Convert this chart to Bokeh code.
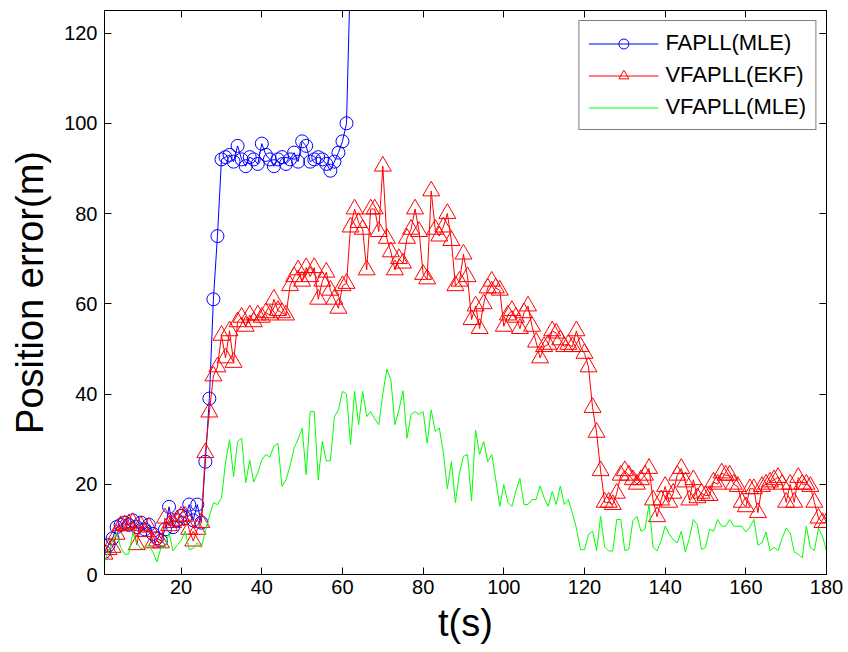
from bokeh.plotting import figure
from bokeh.models import LinearAxis, FixedTicker, Range1d, Legend, LegendItem
from bokeh.embed import file_html
from bokeh.resources import INLINE

# ---- data ----
t = list(range(1, 181))

fapll_mle = [
    5.0, 6.5, 8.0, 10.5, 11.0, 11.5, 11.0, 12.0, 10.5, 11.5,
    10.0, 11.0, 9.0, 8.0, 7.5, 10.0, 15.0, 10.5, 12.0, 13.0,
    12.5, 15.5, 12.0, 15.5, 11.5, 25.0, 39.0, 61.0, 75.0, 92.0,
    92.5, 93.0, 91.5, 95.0, 92.0, 90.5, 92.5, 92.0, 91.0, 95.5,
    93.0, 92.0, 90.5, 92.0, 92.5, 91.0, 92.0, 93.5, 91.5, 96.0,
    95.0, 91.5, 92.0, 92.5, 92.0, 91.0, 89.5, 91.5, 93.5, 96.0,
    100.0, 135.0,
]
t_fapll = t[:len(fapll_mle)]

vfapll_ekf = [
    4.5, 5.5, 6.0, 8.9, 10.8, 11.0, 11.2, 11.5, 6.6, 10.8,
    9.5, 10.5, 7.0, 7.4, 7.0, 12.5, 10.8, 11.5, 12.0, 12.9,
    12.9, 10.0, 7.4, 10.0, 11.5, 27.0, 36.0, 44.0, 46.0, 53.0,
    48.0, 54.0, 47.0, 56.0, 57.0, 55.0, 57.5, 56.0, 57.5, 57.0,
    58.0, 57.5, 61.0, 58.5, 58.0, 57.5, 64.0, 66.0, 67.5, 65.0,
    68.0, 66.0, 68.0, 61.0, 65.0, 67.0, 63.0, 61.0, 59.0, 64.0,
    64.5, 77.0, 81.0, 78.0, 76.5, 67.5, 81.0, 81.0, 76.0, 90.5,
    74.5, 71.5, 67.5, 70.0, 69.0, 74.5, 76.5, 81.0, 76.0, 66.5,
    65.5, 85.0, 76.5, 75.0, 77.0, 80.0, 74.0, 64.0, 65.0, 71.0,
    66.0, 56.5, 59.5, 54.5, 60.0, 63.5, 65.0, 63.5, 63.0, 55.0,
    57.5, 58.5, 57.0, 54.5, 58.0, 59.5, 55.0, 51.5, 48.0, 50.5,
    51.0, 54.0, 53.5, 52.0, 50.5, 51.0, 50.5, 54.0, 50.5, 49.0,
    46.0, 37.0, 31.5, 23.0, 16.0, 16.0, 15.5, 18.0, 22.0, 23.0,
    22.0, 21.0, 20.0, 21.0, 22.0, 23.5, 16.5, 12.8, 16.5, 19.5,
    16.0, 18.0, 22.0, 23.5, 20.5, 16.5, 21.0, 17.0, 18.0, 17.5,
    17.5, 20.5, 20.0, 22.5, 22.0, 22.0, 20.0, 19.5, 16.0, 15.0,
    19.0, 19.0, 13.7, 19.5, 20.0, 20.5, 21.0, 21.5, 20.0, 16.0,
    20.0, 16.0, 21.5, 20.0, 20.0, 19.5, 16.0, 12.5, 11.5, 11.5,
]

vfapll_mle = [
    2.9, 5.0, 7.5, 9.2, 6.0, 4.5, 4.5, 9.2, 7.0, 5.7,
    6.0, 6.5, 5.0, 2.8, 6.0, 6.0, 9.2, 5.2, 6.5, 7.5,
    9.6, 5.5, 5.8, 7.0, 6.0, 9.5, 12.9, 15.9, 15.5, 16.9,
    24.7, 29.9, 21.7, 29.5, 30.2, 20.3, 25.4, 20.5, 22.5, 25.4,
    26.6, 26.0, 28.4, 29.1, 19.5, 21.0, 24.0, 28.0, 30.0, 32.4,
    22.1, 36.1, 36.1, 21.0, 29.5, 25.2, 25.2, 35.0, 36.5, 40.6,
    40.0, 28.8, 40.6, 33.2, 40.6, 35.0, 36.1, 34.5, 33.2, 40.0,
    45.5, 43.1, 33.2, 36.5, 40.7, 30.2, 35.5, 36.1, 35.5, 36.1,
    29.1, 36.5, 31.7, 32.5, 27.0, 19.0, 25.0, 15.9, 22.5, 26.2,
    26.6, 16.3, 32.0, 26.6, 29.5, 25.0, 26.6, 21.0, 15.1, 19.9,
    16.0, 15.1, 18.5, 21.3, 15.5, 15.5, 16.6, 16.6, 19.6, 17.0,
    15.1, 18.4, 15.5, 19.6, 15.5, 16.6, 13.6, 10.3, 5.5, 5.5,
    8.9, 9.6, 5.3, 12.9, 6.1, 5.2, 5.2, 12.2, 12.2, 5.3,
    5.6, 12.0, 12.9, 9.6, 10.0, 15.5, 6.1, 5.2, 7.5, 10.7,
    9.0, 7.7, 7.0, 9.6, 5.0, 8.0, 12.2, 11.0, 5.5, 6.0,
    10.0, 9.6, 12.2, 10.7, 10.7, 12.2, 10.7, 10.7, 10.7, 9.4,
    10.5, 12.2, 6.5, 7.0, 9.4, 5.3, 6.0, 5.3, 8.0, 10.3,
    9.2, 5.0, 4.5, 3.7, 10.7, 6.0, 5.3, 10.3, 8.5, 5.3,
]

x_ticks = [20, 40, 60, 80, 100, 120, 140, 160, 180]
y_ticks = [0, 20, 40, 60, 80, 100, 120]
labels = ["FAPLL(MLE)", "VFAPLL(EKF)", "VFAPLL(MLE)"]

FONT = "Arial"

p = figure(width=848, height=652,
           x_range=Range1d(1, 180), y_range=Range1d(0, 125),
           output_backend="svg", toolbar_location=None,
           min_border_left=104, min_border_right=22,
           min_border_top=10, min_border_bottom=78)
p.xgrid.visible = False
p.ygrid.visible = False
p.outline_line_color = "black"
p.outline_line_width = 1
p.background_fill_color = "white"
p.border_fill_color = "white"

def style_axis(ax, ticks, show_labels=True):
    ax.ticker = FixedTicker(ticks=ticks)
    ax.major_tick_in = 7
    ax.major_tick_out = 0
    ax.minor_tick_line_color = None
    ax.axis_line_color = "black"
    ax.major_tick_line_color = "black"
    if show_labels:
        ax.major_label_text_font = FONT
        ax.major_label_text_font_size = "20px"
        ax.major_label_text_color = "black"
    else:
        ax.major_label_text_color = None
        ax.major_label_text_font_size = "1px"
        ax.major_label_standoff = 0

style_axis(p.xaxis[0], x_ticks)
style_axis(p.yaxis[0], y_ticks)
p.xaxis[0].axis_label = "t(s)"
p.yaxis[0].axis_label = "Position error(m)"
for ax in (p.xaxis[0], p.yaxis[0]):
    ax.axis_label_text_font = FONT
    ax.axis_label_text_font_style = "normal"
    ax.axis_label_text_color = "black"
p.xaxis[0].axis_label_text_font_size = "38px"
p.yaxis[0].axis_label_text_font_size = "38px"
p.xaxis[0].major_label_standoff = 5
p.xaxis[0].axis_label_standoff = 5
p.yaxis[0].major_label_standoff = 7
p.yaxis[0].axis_label_standoff = 10

ax_r = LinearAxis()
style_axis(ax_r, y_ticks, show_labels=False)
p.add_layout(ax_r, "right")
ax_t = LinearAxis()
style_axis(ax_t, x_ticks, show_labels=False)
p.add_layout(ax_t, "above")

# series
bl = p.line(t_fapll, fapll_mle, line_color="#0000ff", line_width=1)
bs = p.scatter(t_fapll, fapll_mle, marker="circle", size=13, line_color="#0000ff",
               fill_color=None, line_width=1)
rl = p.line(t, vfapll_ekf, line_color="#ff0000", line_width=1)
rs = p.scatter(t, vfapll_ekf, marker="triangle", size=17, line_color="#ff0000",
               fill_color=None, line_width=1)
gl = p.line(t, vfapll_mle, line_color="#00ff00", line_width=1)

legend = Legend(items=[
    LegendItem(label=labels[0], renderers=[bl, bs]),
    LegendItem(label=labels[1], renderers=[rl, rs]),
    LegendItem(label=labels[2], renderers=[gl]),
], location="top_right")
legend.label_text_font = FONT
legend.label_text_font_size = "22px"
legend.label_text_color = "black"
legend.glyph_width = 70
legend.glyph_height = 25
legend.label_height = 25
legend.label_standoff = 7
legend.spacing = 6
legend.padding = 9
legend.margin = 10
legend.border_line_color = "black"
legend.border_line_width = 1
legend.background_fill_color = "white"
legend.background_fill_alpha = 1
p.add_layout(legend)

open("out.html", "w").write(file_html(p, INLINE))
